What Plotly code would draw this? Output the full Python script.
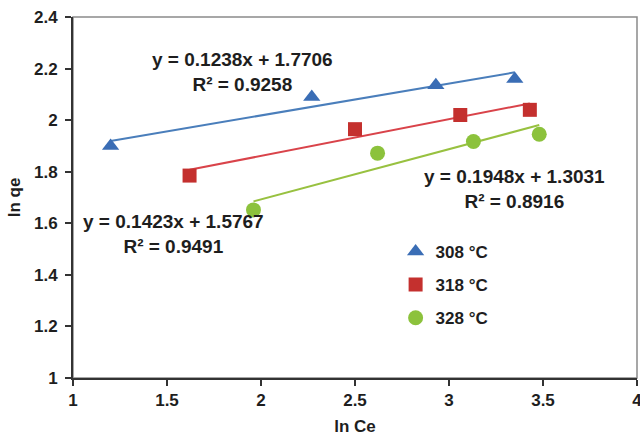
import plotly.graph_objects as go

# Data
x308 = [1.20, 2.27, 2.93, 3.35]
y308 = [1.90, 2.09, 2.135, 2.16]
x318 = [1.62, 2.50, 3.06, 3.43]
y318 = [1.785, 1.965, 2.02, 2.04]
x328 = [1.96, 2.62, 3.13, 3.48]
y328 = [1.652, 1.872, 1.917, 1.945]

series_names = ["308 °C", "318 °C", "328 °C"]
slopes = [0.1238, 0.1423, 0.1948]
intercepts = [1.7706, 1.5767, 1.3031]
r2 = [0.9258, 0.9491, 0.8916]

xs = [x308, x318, x328]
ys = [y308, y318, y328]
colors = ["#3A6DB5", "#C4302E", "#8CC23C"]
line_colors = ["#4A7EBB", "#D9434A", "#98C140"]
symbols = ["triangle-up", "square", "circle"]
sizes = [15, 14, 15]

FONT = "Liberation Sans, Arial, sans-serif"
TXT = "#1e1e1e"

fig = go.Figure()

# Trend lines
for i in range(3):
    xmin, xmax = min(xs[i]), max(xs[i])
    fig.add_trace(go.Scatter(
        x=[xmin, xmax],
        y=[slopes[i] * xmin + intercepts[i], slopes[i] * xmax + intercepts[i]],
        mode="lines", line=dict(color=line_colors[i], width=2),
        showlegend=False, hoverinfo="skip"))

# Data markers
for i in range(3):
    fig.add_trace(go.Scatter(
        x=xs[i], y=ys[i], mode="markers", name=series_names[i],
        legendgroup=f"g{i}",
        marker=dict(symbol=symbols[i], size=sizes[i], color=colors[i],
                    line=dict(width=0))))

# Equation labels
label_pos = [(1.904, 2.185), (1.532, 1.557), (3.346, 1.733)]
for i in range(3):
    fig.add_annotation(
        x=label_pos[i][0], y=label_pos[i][1], xref="x", yref="y",
        text=f"y = {slopes[i]:.4f}x + {intercepts[i]:.4f}<br>R² = {r2[i]:.4f}",
        showarrow=False, font=dict(family=FONT, size=19, color=TXT, weight="bold"),
        align="center")

# Gray frame
fig.add_shape(type="rect", xref="paper", yref="paper", x0=0, y0=0, x1=1, y1=1,
              line=dict(color="#8a8a8a", width=1.5), layer="below")

fig.update_layout(
    width=640, height=436,
    margin=dict(l=73, r=3, t=17, b=58),
    paper_bgcolor="white", plot_bgcolor="white",
    font=dict(family=FONT, size=17, color=TXT, weight="bold"),
    legend=dict(x=0.572, y=0.399, xanchor="left", yanchor="top",
                bgcolor="rgba(0,0,0,0)",
                font=dict(family=FONT, size=17, color=TXT, weight="bold"),
                itemwidth=30, tracegroupgap=8),
    showlegend=True,
)

fig.update_xaxes(
    range=[1, 4], tick0=1, dtick=0.5, showgrid=False, zeroline=False,
    showline=True, linecolor="#333333", linewidth=2, automargin=False,
    ticks="outside", ticklen=6, tickcolor="#333333", tickwidth=1.5,
    ticklabeloverflow="allow",
    tickfont=dict(family=FONT, size=17, color=TXT, weight="bold"),
    title=dict(text="ln Ce", font=dict(family=FONT, size=17, color=TXT, weight="bold"), standoff=12),
    tickformat="~g")
fig.update_yaxes(
    range=[1, 2.4], tick0=1, dtick=0.2, showgrid=False, zeroline=False,
    showline=True, linecolor="#333333", linewidth=2, automargin=False,
    ticks="outside", ticklen=6, tickcolor="#333333", tickwidth=1.5,
    ticklabelstandoff=4, ticklabeloverflow="allow",
    tickfont=dict(family=FONT, size=17, color=TXT, weight="bold"),
    title=dict(text="ln qe", font=dict(family=FONT, size=17, color=TXT, weight="bold"), standoff=9),
    tickformat="~g")

fig.write_html("out.html", config={"displayModeBar": False},
               post_script="document.body.style.margin='0';")
